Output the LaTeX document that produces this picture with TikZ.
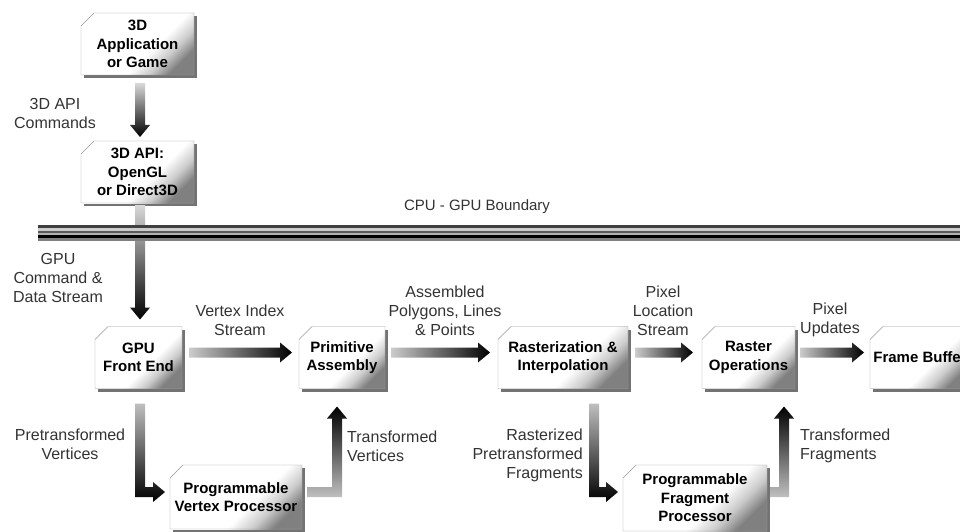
\documentclass[tikz,border=0pt]{standalone}
\usepackage{fontspec}
\setmainfont{Liberation Sans}
\usetikzlibrary{calc}
\usetikzlibrary{shadows}
\pgfdeclareverticalshading{stagefill}{100bp}{color(0bp)=(black!50); color(25bp)=(black!50);
  color(33bp)=(black!20); color(42bp)=(white); color(100bp)=(white)}
\tikzset{stage/.style={rectangle,align=center,inner sep=2pt,outer sep=0pt,
  minimum height=62pt,font=\bfseries\fontsize{15}{18.5}\selectfont,
  drop shadow={shadow xshift=3pt,shadow yshift=-3pt,opacity=0.55,fill=black},
  shade,shading=stagefill,shading angle=45}}
\tikzset{edge/.style={draw=black!40,thin}}
\tikzset{note/.style={text=black!80,align=center,inner sep=0pt,
  font=\fontsize{16}{19}\selectfont}}
\pgfdeclareverticalshading{boundary}{100bp}{color(0bp)=(black!50); color(25bp)=(black!50);
  color(31.7bp)=(black!50); color(35bp)=(black); color(41.7bp)=(black);
  color(45bp)=(black!30); color(48.3bp)=(black!30); color(51.7bp)=(black!65);
  color(55bp)=(black!65); color(58.3bp)=(black!20); color(65bp)=(black!20);
  color(68.3bp)=(black!75); color(75bp)=(black!75); color(100bp)=(black!75)}

% straight flow to the right
\newcommand\hflow[2]{%
  \path [left color=black!20,right color=black]
    let \p1=#1, \p2=#2 in
    (\x1,\y1+5pt) -- (\x2-12pt,\y1+5pt) -- (\x2-12pt,\y1+10pt) -- (\x2,\y1)
    -- (\x2-12pt,\y1-10pt) -- (\x2-12pt,\y1-5pt) -- (\x1,\y1-5pt) -- cycle;}
% straight flow downwards
\newcommand\vflow[2]{%
  \path [top color=black!15,bottom color=black]
    let \p1=#1, \p2=#2 in
    (\x1-5pt,\y1) -- (\x1+5pt,\y1) -- (\x1+5pt,\y2+12pt) -- (\x1+10pt,\y2+12pt)
    -- (\x1,\y2) -- (\x1-10pt,\y2+12pt) -- (\x1-5pt,\y2+12pt) -- cycle;}
% down, then right
\newcommand\dflow[2]{%
  \path [top color=black!25,middle color=black!85,bottom color=black]
    let \p1=#1, \p2=#2 in
    (\x1-5pt,\y1) -- (\x1+5pt,\y1) -- (\x1+5pt,\y2+5pt) -- (\x2-12pt,\y2+5pt)
    -- (\x2-12pt,\y2+10pt) -- (\x2,\y2) -- (\x2-12pt,\y2-10pt) -- (\x2-12pt,\y2-5pt)
    -- (\x1-5pt,\y2-5pt) -- cycle;}
% right, then up
\newcommand\uflow[2]{%
  \path [bottom color=black!25,middle color=black!80,top color=black]
    let \p1=#1, \p2=#2 in
    (\x1,\y1-5pt) -- (\x2+5pt,\y1-5pt) -- (\x2+5pt,\y2-12pt) -- (\x2+10pt,\y2-12pt)
    -- (\x2,\y2) -- (\x2-10pt,\y2-12pt) -- (\x2-5pt,\y2-12pt) -- (\x2-5pt,\y1+5pt)
    -- (\x1,\y1+5pt) -- cycle;}

\begin{document}
\begin{tikzpicture}[x=1pt,y=1pt]
	\useasboundingbox (0,0) rectangle (960,531);

	% CPU side
	\node [stage,minimum width=113pt] (app) at (137.5,487) {3D\\Application\\or Game};
	\node [stage,minimum width=113pt] (api) at (137.5,359) {3D API:\\OpenGL\\or Direct3D};

	% GPU pipeline
	\node [stage,minimum width=87pt] (fe) at (138.5,173.5) {GPU\\Front End};
	\node [stage,minimum width=86pt] (pa) at (342,173.5) {Primitive\\Assembly};
	\node [stage,minimum width=130pt] (ri) at (563,173.5) {Rasterization \&\\Interpolation};
	\node [stage,minimum width=93pt] (ro) at (748.5,173.5) {Raster\\Operations};
	\node [stage,minimum width=100pt] (fb) at (920,173.5) {Frame Buffer};
	\node [stage,minimum width=132pt,minimum height=64pt] (vp) at (236,34)
		{Programmable\\Vertex Processor};
	\node [stage,minimum width=144pt,minimum height=66pt] (fp) at (695,33)
		{Programmable\\Fragment\\Processor};

	% Cut corners and outlines
	\foreach \n in {app,api,fe,pa,ri,ro,fb,vp,fp}{
		\fill [white] ([xshift=-1pt,yshift=1pt]\n.north west) -- ([xshift=13pt,yshift=1pt]\n.north west)
			-- ([xshift=-1pt,yshift=-13pt]\n.north west) -- cycle;
		\draw [edge] ([xshift=13pt]\n.north west) -- (\n.north east) -- (\n.south east)
			-- (\n.south west) -- ([yshift=-13pt]\n.north west) -- cycle;
	}

	% Flows
	\vflow{([xshift=2.5pt,yshift=-8pt]app.south)}{([yshift=4pt]api.north)}
	\vflow{([xshift=2.5pt,yshift=-2pt]api.south)}{([yshift=7pt]fe.north)}
	\hflow{([xshift=7pt,yshift=5pt]fe.east)}{([xshift=-7pt,yshift=5pt]pa.west)}
	\hflow{([xshift=6pt,yshift=5pt]pa.east)}{([xshift=-8pt,yshift=5pt]ri.west)}
	\hflow{([xshift=7pt,yshift=5pt]ri.east)}{([xshift=-9pt,yshift=5pt]ro.west)}
	\hflow{([xshift=5pt,yshift=5pt]ro.east)}{([xshift=-6pt,yshift=5pt]fb.west)}
	\dflow{([xshift=1.5pt,yshift=-15pt]fe.south)}{([xshift=-5pt,yshift=5pt]vp.west)}
	\dflow{([xshift=31pt,yshift=-15pt]ri.south)}{([xshift=-5pt,yshift=6pt]fp.west)}
	\uflow{([xshift=5pt,yshift=5pt]vp.east)}{([xshift=-5pt,yshift=-18pt]pa.south)}
	\uflow{([xshift=3pt,yshift=6pt]fp.east)}{([xshift=35.5pt,yshift=-18pt]ro.south)}

	% CPU - GPU boundary
	\node [shade,shading=boundary,minimum width=922pt,minimum height=15pt,inner sep=0pt]
		(bnd) at (499,298.5) {};
	\node [note,font=\fontsize{15}{18}\selectfont] (bndtxt) at (477,324) {CPU - GPU Boundary};

	% Labels
	\node [note] (cmd) at (55,418) {3D API\\Commands};
	\node [note] (gpucmd) at (58,253) {GPU\\Command \&\\Data Stream};
	\node [note] (vidx) at (240,211) {Vertex Index\\Stream};
	\node [note] (asm) at (445,220) {Assembled\\Polygons, Lines\\\& Points};
	\node [note] (ploc) at (663,220) {Pixel\\Location\\Stream};
	\node [note] (pupd) at (830,211) {Pixel\\Updates};
	\node [note] (pretv) at (70,87) {Pretransformed\\Vertices};
	\node [note,align=left,anchor=west] (trv) at (347,85) {Transformed\\Vertices};
	\node [note,align=right,anchor=east] (rasf) at (583,76)
		{Rasterized\\Pretransformed\\Fragments};
	\node [note,align=left,anchor=west] (trf) at (800,85) {Transformed\\Fragments};

\end{tikzpicture}
\end{document}
